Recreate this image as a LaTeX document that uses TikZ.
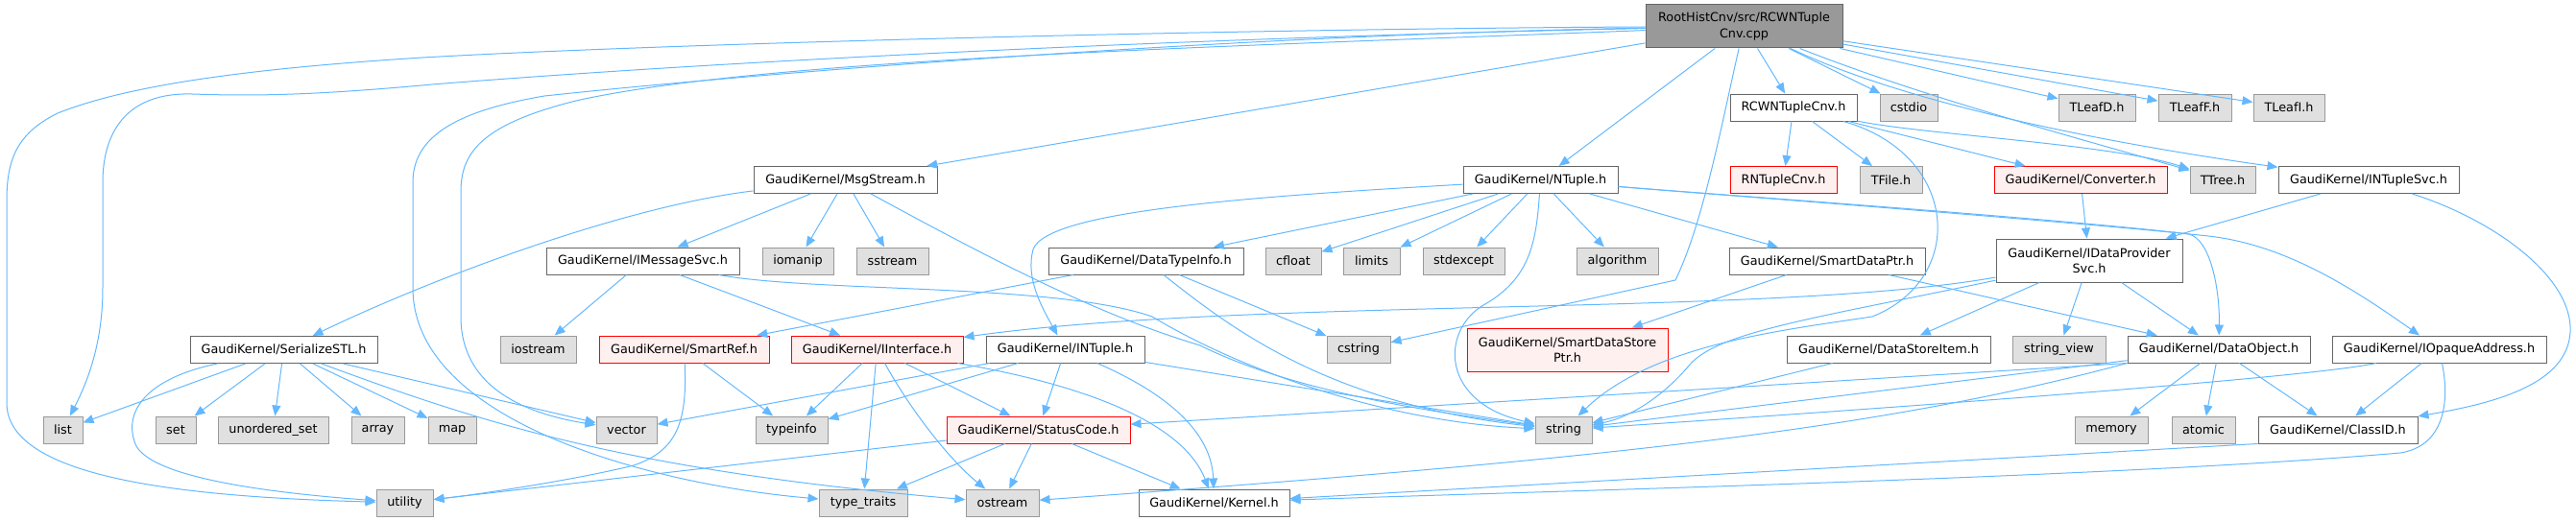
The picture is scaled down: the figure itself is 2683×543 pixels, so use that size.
\documentclass[tikz,border=0pt]{standalone}
\usepackage{fontspec}
\setmainfont{DejaVu Sans}
\usepackage{xcolor}
\usepackage{tikz}
\usetikzlibrary{arrows.meta, positioning}
\definecolor{edgeblue}{HTML}{63B8FF}
\definecolor{hdrline}{HTML}{666666}
\definecolor{sysline}{HTML}{999999}
\definecolor{sysfill}{HTML}{E0E0E0}
\definecolor{cutline}{HTML}{FF0000}
\definecolor{cutfill}{HTML}{FFF0F0}
\definecolor{rootfill}{HTML}{999999}
\tikzset{
  hdrbox/.style={
    draw=hdrline, fill=white, line width=1pt, align=center, inner sep=2pt,
    font=\fontsize{12.8}{16.5}\selectfont, minimum height=28pt
  },
  sysbox/.style={hdrbox, draw=sysline, fill=sysfill},
  cutbox/.style={hdrbox, draw=cutline, fill=cutfill},
  rootbox/.style={hdrbox, fill=rootfill, minimum height=45pt},
  incarrow/.style={
    -{Triangle[length=11pt,width=9pt]}, line width=1pt, color=edgeblue
  },
}

\begin{document}
\begin{tikzpicture}[x=1pt, y=-1pt]
  \useasboundingbox (0,0) rectangle (2683,543);

  % Source file
  \node[rootbox, minimum width=205pt] (root) at (1816.5,27.5)
    {RootHistCnv/src/RCWNTuple\\Cnv.cpp};

  % First level
  \node[hdrbox, minimum width=132pt] (rcwnh) at (1868,112) {RCWNTupleCnv.h};
  \node[sysbox, minimum width=60pt] (cstdio) at (1988,112) {cstdio};
  \node[sysbox, minimum width=80pt] (tleafd) at (2184,112) {TLeafD.h};
  \node[sysbox, minimum width=76pt] (tleaff) at (2286,112) {TLeafF.h};
  \node[sysbox, minimum width=74pt] (tleafi) at (2384,112) {TLeafI.h};

  % Second level
  \node[hdrbox, minimum width=191pt] (msgstream) at (880.5,187.5) {GaudiKernel/MsgStream.h};
  \node[hdrbox, minimum width=161pt] (ntuple) at (1604.5,187.5) {GaudiKernel/NTuple.h};
  \node[cutbox, minimum width=111pt] (rntuple) at (1857.5,187.5) {RNTupleCnv.h};
  \node[sysbox, minimum width=65pt] (tfile) at (1969.5,187.5) {TFile.h};
  \node[cutbox, minimum width=180pt] (converter) at (2167,187.5) {GaudiKernel/Converter.h};
  \node[sysbox, minimum width=68pt] (ttree) at (2315,187.5) {TTree.h};
  \node[hdrbox, minimum width=188pt] (intuplesvc) at (2467,187.5) {GaudiKernel/INTupleSvc.h};

  % Third level
  \node[hdrbox, minimum width=201pt] (imsgsvc) at (669.5,272) {GaudiKernel/IMessageSvc.h};
  \node[sysbox, minimum width=74pt] (iomanip) at (831,272) {iomanip};
  \node[sysbox, minimum width=75pt] (sstream) at (929.5,272) {sstream};
  \node[hdrbox, minimum width=203pt] (datatypeinfo) at (1193.5,272) {GaudiKernel/DataTypeInfo.h};
  \node[sysbox, minimum width=58pt] (cfloat) at (1347,272) {cfloat};
  \node[sysbox, minimum width=59pt] (limits) at (1428.5,272) {limits};
  \node[sysbox, minimum width=85pt] (stdexcept) at (1524.5,272) {stdexcept};
  \node[sysbox, minimum width=85pt] (algorithm) at (1684.5,272) {algorithm};
  \node[hdrbox, minimum width=204pt] (smartdataptr) at (1903,272) {GaudiKernel/SmartDataPtr.h};
  \node[hdrbox, minimum width=194pt, minimum height=45pt] (idataprov) at (2176,271.5)
    {GaudiKernel/IDataProvider\\Svc.h};

  % Fourth level
  \node[hdrbox, minimum width=195pt] (serializestl) at (295.5,364.5) {GaudiKernel/SerializeSTL.h};
  \node[sysbox, minimum width=79pt] (iostream) at (560.5,364) {iostream};
  \node[cutbox, minimum width=177pt] (smartref) at (712.5,364) {GaudiKernel/SmartRef.h};
  \node[cutbox, minimum width=179pt] (iinterface) at (913.5,364) {GaudiKernel/IInterface.h};
  \node[hdrbox, minimum width=165pt] (intuple) at (1109.5,364) {GaudiKernel/INTuple.h};
  \node[sysbox, minimum width=66pt] (cstring) at (1415,364) {cstring};
  \node[cutbox, minimum width=209pt, minimum height=45pt] (smartstore) at (1632.5,364.5)
    {GaudiKernel/SmartDataStore\\Ptr.h};
  \node[hdrbox, minimum width=212pt] (datastoreitem) at (1967,364) {GaudiKernel/DataStoreItem.h};
  \node[sysbox, minimum width=97pt] (stringview) at (2144.5,364) {string\_view};
  \node[hdrbox, minimum width=190pt] (dataobject) at (2311,364) {GaudiKernel/DataObject.h};
  \node[hdrbox, minimum width=223pt] (iopaque) at (2540.5,364) {GaudiKernel/IOpaqueAddress.h};

  % Fifth level
  \node[sysbox, minimum width=41pt] (list) at (65.5,448) {list};
  \node[sysbox, minimum width=42pt] (set) at (183,448) {set};
  \node[sysbox, minimum width=115pt] (unorderedset) at (284.5,448) {unordered\_set};
  \node[sysbox, minimum width=55pt] (array) at (393.5,448) {array};
  \node[sysbox, minimum width=50pt] (map) at (471,448) {map};
  \node[sysbox, minimum width=63pt] (vector) at (652.5,448) {vector};
  \node[sysbox, minimum width=75pt] (typeinfo) at (824.5,448) {typeinfo};
  \node[cutbox, minimum width=191pt] (statuscode) at (1081.5,448) {GaudiKernel/StatusCode.h};
  \node[sysbox, minimum width=59pt] (string) at (1628.5,448) {string};
  \node[sysbox, minimum width=76pt] (memory) at (2199,448) {memory};
  \node[sysbox, minimum width=66pt] (atomic) at (2295,448) {atomic};
  \node[hdrbox, minimum width=166pt] (classid) at (2435,448) {GaudiKernel/ClassID.h};

  % Sixth level
  \node[sysbox, minimum width=59pt] (utility) at (421.5,524) {utility};
  \node[sysbox, minimum width=92pt] (typetraits) at (899,524) {type\_traits};
  \node[sysbox, minimum width=76pt] (ostream) at (1044,524) {ostream};
  \node[hdrbox, minimum width=157pt] (kernel) at (1264.5,524) {GaudiKernel/Kernel.h};

  % Includes of the source file
  \draw[incarrow] (root) .. controls (1300,30) and (700,45) .. (440,60)
    .. controls (250,72) and (130,90) .. (60,118) .. controls (15,140) and (7,170) .. (7,210)
    -- (7,420) .. controls (7,500) and (200,518) .. (utility);
  \draw[incarrow] (root) .. controls (1300,38) and (800,60) .. (450,88)
    .. controls (320,100) and (260,100) .. (200,98) .. controls (130,96) and (107,140) .. (107,190)
    -- (107,300) .. controls (107,360) and (90,400) .. (list);
  \draw[incarrow] (root) .. controls (1300,36) and (800,75) .. (567,100)
    .. controls (480,115) and (430,140) .. (430,190)
    -- (430,300) .. controls (430,440) and (680,505) .. (typetraits);
  \draw[incarrow] (root) .. controls (1300,48) and (800,60) .. (600,105)
    .. controls (500,130) and (480,160) .. (480,200)
    -- (480,330) .. controls (480,400) and (540,430) .. (vector);
  \draw[incarrow] (root) -- (msgstream);
  \draw[incarrow] (root) -- (ntuple);
  \draw[incarrow] (root) -- (rcwnh);
  \draw[incarrow] (root) -- (cstdio);
  \draw[incarrow] (root) -- (tleafd);
  \draw[incarrow] (root) -- (tleaff);
  \draw[incarrow] (root) -- (tleafi);
  \draw[incarrow] (root) .. controls (2000,100) and (2150,140) .. (ttree);
  \draw[incarrow] (root) .. controls (1990,110) and (2200,150) .. (intuplesvc);
  \draw[incarrow] (root) .. controls (1795,120) and (1775,230) .. (1745,292) -- (cstring);

  % RCWNTupleCnv.h
  \draw[incarrow] (rcwnh) -- (rntuple);
  \draw[incarrow] (rcwnh) -- (tfile);
  \draw[incarrow] (rcwnh) -- (converter);
  \draw[incarrow] (rcwnh) .. controls (2000,140) and (2200,150) .. (ttree);
  \draw[incarrow] (rcwnh) .. controls (2040,160) and (2050,290) .. (1950,330)
    .. controls (1850,345) and (1720,360) .. (string);

  % MsgStream.h
  \draw[incarrow] (msgstream) .. controls (650,215) and (450,290) .. (serializestl);
  \draw[incarrow] (msgstream) -- (imsgsvc);
  \draw[incarrow] (msgstream) -- (iomanip);
  \draw[incarrow] (msgstream) -- (sstream);
  \draw[incarrow] (msgstream) .. controls (1050,280) and (1150,330) .. (1250,360)
    .. controls (1350,410) and (1500,430) .. (string);

  % IMessageSvc.h
  \draw[incarrow] (imsgsvc) -- (iostream);
  \draw[incarrow] (imsgsvc) -- (iinterface);
  \draw[incarrow] (imsgsvc) .. controls (850,305) and (1100,295) .. (1200,330)
    .. controls (1300,390) and (1450,440) .. (string);

  % DataTypeInfo.h
  \draw[incarrow] (datatypeinfo) -- (smartref);
  \draw[incarrow] (datatypeinfo) -- (cstring);
  \draw[incarrow] (datatypeinfo) .. controls (1280,340) and (1380,420) .. (string);

  % NTuple.h
  \draw[incarrow] (ntuple) .. controls (1300,205) and (1090,220) .. (1076,260)
    .. controls (1068,290) and (1085,320) .. (intuple);
  \draw[incarrow] (ntuple) -- (datatypeinfo);
  \draw[incarrow] (ntuple) -- (cfloat);
  \draw[incarrow] (ntuple) -- (limits);
  \draw[incarrow] (ntuple) -- (stdexcept);
  \draw[incarrow] (ntuple) -- (algorithm);
  \draw[incarrow] (ntuple) .. controls (1600,250) and (1595,290) .. (1545,318)
    .. controls (1500,345) and (1500,420) .. (string);
  \draw[incarrow] (ntuple) -- (smartdataptr);
  \draw[incarrow] (ntuple) .. controls (1750,200) and (2150,228) .. (2280,244)
    .. controls (2302,250) and (2312,300) .. (dataobject);
  \draw[incarrow] (ntuple) .. controls (1750,200) and (2150,230) .. (2300,246)
    .. controls (2380,255) and (2450,300) .. (iopaque);

  % SmartDataPtr.h
  \draw[incarrow] (smartdataptr) -- (smartstore);
  \draw[incarrow] (smartdataptr) -- (dataobject);

  % Converter.h and INTupleSvc.h
  \draw[incarrow] (converter) -- (idataprov);
  \draw[incarrow] (intuplesvc) -- (idataprov);
  \draw[incarrow] (intuplesvc) .. controls (2600,230) and (2680,290) .. (2677,346)
    .. controls (2674,400) and (2600,420) .. (classid);

  % IDataProviderSvc.h
  \draw[incarrow] (idataprov) .. controls (1850,330) and (1300,310) .. (iinterface);
  \draw[incarrow] (idataprov) .. controls (1900,330) and (1790,345) .. (1760,380)
    .. controls (1735,410) and (1700,435) .. (string);
  \draw[incarrow] (idataprov) -- (datastoreitem);
  \draw[incarrow] (idataprov) -- (stringview);
  \draw[incarrow] (idataprov) -- (dataobject);

  % DataStoreItem.h
  \draw[incarrow] (datastoreitem) -- (string);

  % DataObject.h
  \draw[incarrow] (dataobject) -- (memory);
  \draw[incarrow] (dataobject) -- (atomic);
  \draw[incarrow] (dataobject) -- (classid);
  \draw[incarrow] (dataobject) -- (string);
  \draw[incarrow] (dataobject.south west) -- (statuscode);
  \draw[incarrow] (dataobject.south west) .. controls (1950,450) and (1650,480) .. (ostream);

  % IOpaqueAddress.h
  \draw[incarrow] (iopaque) .. controls (2400,395) and (1900,430) .. (string);
  \draw[incarrow] (iopaque) -- (classid);
  \draw[incarrow] (iopaque) .. controls (2552,420) and (2545,465) .. (2500,472)
    .. controls (2200,498) and (1600,512) .. (kernel);

  % ClassID.h
  \draw[incarrow] (classid.south west) -- (kernel);

  % INTuple.h
  \draw[incarrow] (intuple) -- (typeinfo);
  \draw[incarrow] (intuple) -- (vector);
  \draw[incarrow] (intuple) -- (statuscode);
  \draw[incarrow] (intuple) .. controls (1215,410) and (1262,450) .. (kernel);
  \draw[incarrow] (intuple) -- (string);

  % IInterface.h
  \draw[incarrow] (iinterface) -- (typeinfo);
  \draw[incarrow] (iinterface) -- (typetraits);
  \draw[incarrow] (iinterface) .. controls (950,430) and (990,480) .. (ostream);
  \draw[incarrow] (iinterface) -- (statuscode);
  \draw[incarrow] (iinterface) .. controls (1180,410) and (1240,460) .. (kernel);

  % StatusCode.h
  \draw[incarrow] (statuscode) -- (utility);
  \draw[incarrow] (statuscode) -- (typetraits);
  \draw[incarrow] (statuscode) -- (ostream);
  \draw[incarrow] (statuscode) -- (kernel);

  % SmartRef.h
  \draw[incarrow] (smartref) -- (typeinfo);
  \draw[incarrow] (smartref) .. controls (716,440) and (705,470) .. (660,485)
    .. controls (600,500) and (500,515) .. (utility);

  % SerializeSTL.h
  \draw[incarrow] (serializestl) -- (list);
  \draw[incarrow] (serializestl) -- (set);
  \draw[incarrow] (serializestl) -- (unorderedset);
  \draw[incarrow] (serializestl) -- (array);
  \draw[incarrow] (serializestl) -- (map);
  \draw[incarrow] (serializestl) -- (vector);
  \draw[incarrow] (serializestl) .. controls (500,440) and (650,490) .. (ostream);
  \draw[incarrow] (serializestl) .. controls (150,395) and (130,430) .. (140,460)
    .. controls (150,500) and (300,515) .. (utility);
\end{tikzpicture}
\end{document}
